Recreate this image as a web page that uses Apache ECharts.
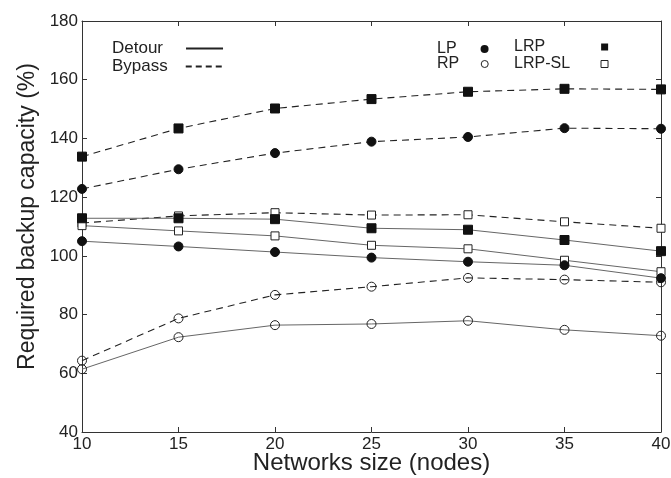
<!DOCTYPE html>
<html><head><meta charset="utf-8">
<script src="https://cdn.jsdelivr.net/npm/echarts@6/dist/echarts.min.js"></script>
<style>html,body{margin:0;padding:0;background:#fff}#c{width:671px;height:478px}</style>
</head><body><div id="c"></div>
<script>
const sizes = [10, 15, 20, 25, 30, 35, 40];
const yTicks = [40, 60, 80, 100, 120, 140, 160, 180];
// Bypass (dashed)
const lrpBypass   = [133.8, 143.4, 150.2, 153.4, 155.9, 156.9, 156.7];
const lpBypass    = [122.8, 129.5, 135.0, 138.9, 140.5, 143.5, 143.3];
const lrpslBypass = [111.2, 113.6, 114.7, 113.9, 114.0, 111.6, 109.4];
const rpBypass    = [64.3, 78.7, 86.7, 89.5, 92.5, 91.9, 91.0];
// Detour (solid)
const lrpDetour   = [112.8, 112.8, 112.5, 109.4, 108.9, 105.4, 101.6];
const lrpslDetour = [110.3, 108.5, 106.8, 103.6, 102.4, 98.5, 94.6];
const lpDetour    = [105.0, 103.2, 101.3, 99.4, 98.0, 96.8, 92.4];
const rpDetour    = [61.4, 72.3, 76.4, 76.8, 77.9, 74.8, 72.8];

const FONT = 'Liberation Sans, Arial, sans-serif';
const pair = a => a.map((v, i) => [sizes[i], v]);

const markers = {
  LP:     {symbol: 'circle', symbolSize: 9, itemStyle: {color: '#111', borderColor: '#111', borderWidth: 1}},
  RP:     {symbol: 'circle', symbolSize: 9, itemStyle: {color: 'rgba(255,255,255,0)', borderColor: '#222', borderWidth: 1}},
  LRP:    {symbol: 'rect', symbolSize: 9, itemStyle: {color: '#111', borderColor: '#111', borderWidth: 1}},
  LRPSL:  {symbol: 'rect', symbolSize: 8, itemStyle: {color: '#fff', borderColor: '#222', borderWidth: 1}}
};
function mk(name, data, m, dashed) {
  return Object.assign({
    name: name, type: 'line', data: pair(data), showSymbol: true,
    lineStyle: dashed ? {color: '#222', width: 1.1, type: [7, 5]} : {color: '#666', width: 1},
    z: 3, animation: false
  }, m);
}
const series = [
  mk('LRP Bypass', lrpBypass, markers.LRP, true),
  mk('LP Bypass', lpBypass, markers.LP, true),
  mk('LRP-SL Bypass', lrpslBypass, markers.LRPSL, true),
  mk('RP Bypass', rpBypass, markers.RP, true),
  mk('LRP-SL Detour', lrpslDetour, markers.LRPSL, false),
  mk('LRP Detour', lrpDetour, markers.LRP, false),
  mk('LP Detour', lpDetour, markers.LP, false),
  mk('RP Detour', rpDetour, markers.RP, false),
  // legend-only entries
  {name: 'Detour', type: 'line', data: [], symbol: 'none', symbolSize: 0, itemStyle: {color: '#222', opacity: 0}, lineStyle: {color: '#222', width: 1.2}},
  {name: 'Bypass', type: 'line', data: [], symbol: 'none', symbolSize: 0, itemStyle: {color: '#222', opacity: 0}, lineStyle: {color: '#222', width: 1.2, type: [6, 4]}},
  {name: 'LP', type: 'line', data: [], symbol: 'circle', itemStyle: {color: '#111'}},
  {name: 'RP', type: 'line', data: [], symbol: 'circle', itemStyle: {color: '#fff'}},
  {name: 'LRP', type: 'line', data: [], symbol: 'rect', itemStyle: {color: '#111'}},
  {name: 'LRP-SL', type: 'line', data: [], symbol: 'rect', itemStyle: {color: '#fff'}}
];

function lg(item, left, top, fs, pad, w, h) {
  return {data: [item], left: left, top: top, padding: 0, align: 'right', orient: 'vertical',
    itemWidth: w, itemHeight: h, selectedMode: false,
    textStyle: {fontFamily: FONT, fontSize: fs, lineHeight: fs, color: '#222', padding: [0, pad, 0, 0]}};
}
const legends = [
  Object.assign(lg({name: 'Detour'}, 112, 40, 17, 18, 37, 10), {itemStyle: {opacity: 0}}),
  Object.assign(lg({name: 'Bypass'}, 112, 58, 17, 13, 37, 10), {itemStyle: {opacity: 0}}),
  lg({name: 'LP', icon: 'circle', itemStyle: {color: '#111', borderWidth: 0}}, 437, 41, 16, 19, 8, 8),
  lg({name: 'RP', icon: 'circle', itemStyle: {color: '#fff', borderColor: '#222', borderWidth: 1}}, 437, 56, 16, 17, 7, 7),
  lg({name: 'LRP', icon: 'rect', itemStyle: {color: '#111', borderWidth: 0}}, 514, 39, 16, 51, 7, 7),
  lg({name: 'LRP-SL', icon: 'rect', itemStyle: {color: '#fff', borderColor: '#222', borderWidth: 1}}, 514, 56, 16, 26, 7, 7)
];

const axisLine = {show: true, lineStyle: {color: '#333', width: 1}};
const tick = {show: true, inside: true, length: 5, lineStyle: {color: '#333'}};
const chart = echarts.init(document.getElementById('c'), null, {renderer: 'canvas'});
chart.setOption({
  animation: false,
  backgroundColor: '#fff',
  grid: {left: 82, right: 10, top: 21, bottom: 46, containLabel: false, outerBoundsMode: 'none'},
  legend: legends,
  xAxis: [
    {type: 'value', min: 10, max: 40, interval: 5, position: 'bottom',
     name: 'Networks size (nodes)', nameLocation: 'middle', nameGap: 19, nameMoveOverlap: false,
     nameTextStyle: {fontFamily: FONT, fontSize: 24, color: '#222', verticalAlign: 'top'},
     axisLine: axisLine, axisTick: tick, splitLine: {show: false},
     axisLabel: {fontFamily: FONT, fontSize: 17, color: '#222', margin: 4,
       formatter: v => sizes.includes(v) ? String(v) : ''}},
    {type: 'value', min: 10, max: 40, interval: 5, position: 'top',
     axisLine: axisLine, axisTick: tick, axisLabel: {show: false}, splitLine: {show: false}}
  ],
  yAxis: [
    {type: 'value', min: 40, max: 180, interval: 20, position: 'left',
     name: 'Required backup capacity (%)', nameLocation: 'middle', nameGap: 43, nameMoveOverlap: false,
     nameTextStyle: {fontFamily: FONT, fontSize: 23, color: '#222', padding: [0, 0, 0, 20]},
     axisLine: axisLine, axisTick: tick, splitLine: {show: false},
     axisLabel: {fontFamily: FONT, fontSize: 17, color: '#222', margin: 4,
       formatter: v => yTicks.includes(v) ? String(v) : ''}},
    {type: 'value', min: 40, max: 180, interval: 20, position: 'right',
     axisLine: axisLine, axisTick: tick, axisLabel: {show: false}, splitLine: {show: false}}
  ],
  series: series
});
</script></body></html>
